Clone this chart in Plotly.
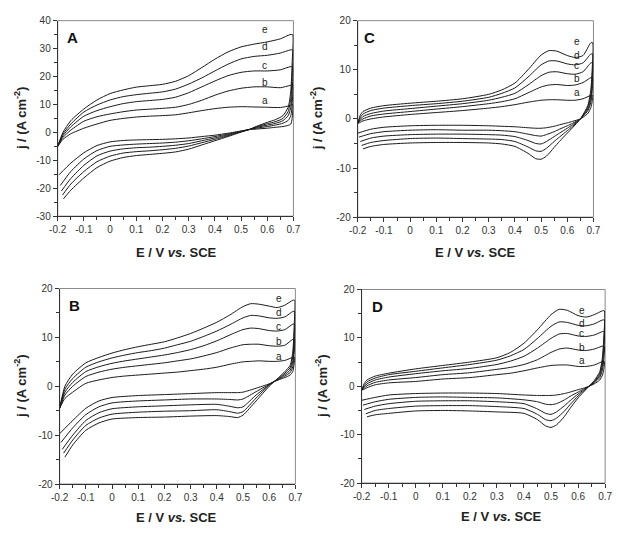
import plotly.graph_objects as go

curve_names = ["a", "b", "c", "d", "e"]

# ---------------- Panel A ----------------
A_anodic_E = [-0.2, -0.18, -0.15, -0.1, -0.05, 0, 0.05, 0.1, 0.15, 0.2, 0.25, 0.3, 0.35, 0.4, 0.45, 0.5, 0.55, 0.6, 0.65, 0.687]
A_anodic_j = [
    [-5, -2.5, -0.5, 1.5, 3.0, 4.3, 5.0, 5.5, 5.8, 6.0, 6.3, 7.0, 7.8, 8.5, 9.0, 9.2, 9.1, 9.0, 8.9, 9.6],
    [-5, -1.8, 0.8, 4.0, 5.6, 6.6, 7.4, 8.0, 8.3, 8.6, 9.0, 10.0, 11.5, 13.3, 14.8, 15.8, 16.3, 16.3, 16.0, 16.8],
    [-5, -1.2, 2.0, 5.8, 7.8, 9.2, 10.3, 11.0, 11.4, 11.8, 12.6, 14.2, 16.3, 18.4, 20.3, 21.5, 22.0, 22.0, 22.4, 23.5],
    [-5, -0.6, 3.0, 7.3, 9.8, 11.6, 12.8, 13.5, 14.0, 14.5, 15.5, 17.3, 19.5, 22.0, 24.4, 26.3, 27.2, 27.6, 28.4, 29.5],
    [-5, 0.0, 4.2, 8.4, 11.6, 13.9, 15.2, 16.2, 16.7, 17.2, 18.3, 20.3, 23.2, 26.2, 28.8, 30.6, 31.6, 32.4, 33.5, 35.0],
]
A_cathodic_E = [0.697, 0.695, 0.69, 0.68, 0.66, 0.63, 0.6, 0.56, 0.53, 0.5, 0.45, 0.4, 0.35, 0.3, 0.25, 0.2, 0.15, 0.1, 0.05, 0, -0.05, -0.1, -0.15]
A_cathodic_j = [
    [10, 5, 3, 2.5, 2.1, 1.8, 1.5, 1.2, 1.0, 0.5, -0.3, -1, -1.5, -2, -2.3, -2.5, -2.6, -2.7, -2.9, -3.4, -4.7, -7.3, -11],
    [17, 10, 6, 4.3, 3.3, 2.6, 2.1, 1.5, 1.0, 0.4, -0.6, -1.5, -2.3, -3, -3.5, -3.8, -4, -4.2, -4.5, -5, -6.5, -9.5, -14],
    [23.5, 15, 9, 6, 4.2, 3.2, 2.6, 1.8, 1.0, 0.3, -0.9, -2, -3, -4, -4.6, -5, -5.3, -5.5, -5.9, -6.7, -8.4, -11.8, -16.5],
    [29.5, 20, 12, 7.5, 5, 3.8, 3.1, 2, 1.0, 0.2, -1.2, -2.5, -3.7, -4.9, -5.7, -6.2, -6.6, -6.9, -7.4, -8.5, -10.5, -14, -18.5],
    [35, 25, 15, 9, 6, 4.5, 3.6, 2.2, 1.0, 0.1, -1.5, -3, -4.5, -6, -7, -7.5, -7.9, -8.3, -9, -10.3, -12.6, -16.3, -20.7],
]
A_end_E = [-0.195, -0.19, -0.186, -0.182, -0.178]
A_end_j = [-15.2, -19, -21, -22.5, -23.8]
A_label_E = [0.59, 0.59, 0.59, 0.59, 0.59]
A_label_j = [11.4, 18.0, 23.9, 30.7, 36.8]

# ---------------- Panel C ----------------
C_anodic_E = [-0.2, -0.19, -0.18, -0.15, -0.1, 0, 0.1, 0.2, 0.3, 0.35, 0.4, 0.45, 0.5, 0.53, 0.56, 0.6, 0.63, 0.66, 0.69]
C_anodic_j = [
    [-0.9, -0.7, -0.4, 0.0, 0.4, 0.9, 1.3, 1.7, 2.2, 2.5, 2.9, 3.4, 3.8, 3.9, 3.9, 3.8, 3.8, 4.1, 4.8],
    [-0.9, -0.4, 0.0, 0.6, 1.0, 1.5, 2.0, 2.5, 3.1, 3.5, 4.1, 5.3, 6.5, 6.9, 7.0, 6.8, 6.9, 7.4, 8.4],
    [-0.9, -0.1, 0.5, 1.1, 1.6, 2.1, 2.6, 3.1, 3.8, 4.4, 5.2, 6.9, 8.8, 9.5, 9.6, 9.2, 9.1, 9.6, 11.4],
    [-0.9, 0.3, 1.0, 1.7, 2.2, 2.7, 3.1, 3.6, 4.4, 5.2, 6.3, 8.5, 11.0, 11.8, 11.8, 11.2, 11.0, 11.4, 13.2],
    [-0.9, 0.8, 1.5, 2.2, 2.7, 3.2, 3.6, 4.1, 5.0, 5.9, 7.3, 10.0, 13.0, 13.9, 13.8, 12.9, 12.5, 12.9, 15.5],
]
C_cathodic_E = [0.697, 0.695, 0.69, 0.68, 0.67, 0.65, 0.62, 0.6, 0.57, 0.55, 0.52, 0.5, 0.48, 0.45, 0.4, 0.35, 0.3, 0.2, 0.1, 0, -0.1, -0.15]
C_cathodic_j = [
    [4.8, 3.5, 2.3, 1.2, 0.7, 0, -0.5, -0.8, -1.2, -1.5, -1.8, -1.9, -1.9, -1.8, -1.6, -1.5, -1.4, -1.3, -1.3, -1.4, -1.7, -2.1],
    [8.4, 5.5, 3.4, 1.8, 1.1, 0, -0.9, -1.4, -2.1, -2.6, -3.2, -3.5, -3.4, -3.1, -2.6, -2.4, -2.3, -2.3, -2.2, -2.3, -2.6, -3.0],
    [11.4, 7, 4.2, 2.2, 1.3, 0, -1.2, -1.9, -2.9, -3.6, -4.6, -5.1, -5.0, -4.4, -3.6, -3.3, -3.2, -3.1, -3.1, -3.2, -3.5, -3.9],
    [13.2, 8.5, 5, 2.6, 1.5, 0, -1.5, -2.4, -3.7, -4.6, -6.0, -6.6, -6.5, -5.7, -4.6, -4.2, -4.1, -4.0, -3.9, -4.0, -4.4, -4.8],
    [15.5, 10, 6, 3, 1.8, 0, -1.8, -2.9, -4.6, -5.8, -7.6, -8.2, -8.1, -7.0, -5.6, -5.1, -4.9, -4.8, -4.8, -4.9, -5.2, -5.6],
]
C_end_E = [-0.2, -0.195, -0.19, -0.185, -0.18]
C_end_j = [-2.9, -3.7, -4.6, -5.4, -6.1]
C_label_E = [0.636, 0.636, 0.636, 0.636, 0.636]
C_label_j = [5.4, 8.3, 10.8, 12.9, 15.7]

# ---------------- Panel B ----------------
B_anodic_E = [-0.2, -0.18, -0.15, -0.1, -0.05, 0, 0.05, 0.1, 0.15, 0.2, 0.25, 0.3, 0.35, 0.4, 0.45, 0.5, 0.53, 0.56, 0.6, 0.63, 0.66, 0.69]
B_anodic_j = [
    [-4.5, -2.5, -1.2, 0.6, 1.3, 1.8, 2.1, 2.3, 2.5, 2.7, 2.9, 3.2, 3.5, 3.9, 4.5, 5.0, 5.1, 5.2, 5.1, 5.1, 5.3, 5.9],
    [-4.5, -1.8, 0.0, 2.0, 2.9, 3.5, 3.9, 4.2, 4.5, 4.8, 5.2, 5.6, 6.2, 6.9, 7.8, 8.5, 8.6, 8.6, 8.3, 8.2, 8.4, 9.6],
    [-4.5, -1.2, 0.8, 3.0, 4.0, 4.7, 5.2, 5.6, 6.0, 6.4, 6.9, 7.5, 8.3, 9.3, 10.5, 11.6, 11.9, 11.8, 11.4, 11.3, 11.6, 12.7],
    [-4.5, -0.6, 1.6, 3.9, 5.0, 5.8, 6.4, 6.9, 7.3, 7.8, 8.5, 9.2, 10.2, 11.3, 12.6, 14.0, 14.5, 14.4, 14.0, 13.9, 14.2, 15.3],
    [-4.5, 0.0, 2.5, 4.8, 5.9, 6.8, 7.5, 8.1, 8.6, 9.1, 9.9, 10.8, 11.9, 13.1, 14.6, 16.3, 16.9, 16.8, 16.4, 16.1, 16.6, 17.6],
]
B_cathodic_E = [0.697, 0.695, 0.69, 0.68, 0.66, 0.64, 0.62, 0.6, 0.55, 0.5, 0.48, 0.45, 0.4, 0.3, 0.2, 0.1, 0, -0.05, -0.1, -0.15]
B_cathodic_j = [
    [5.9, 4.5, 3.0, 2.3, 1.8, 1.4, 1.0, 0.5, -0.4, -1.2, -1.3, -1.3, -1.3, -1.5, -1.7, -1.9, -2.3, -3.0, -4.5, -7.0],
    [9.6, 6.5, 4.0, 2.8, 2.1, 1.5, 1.0, 0.4, -1.1, -2.6, -2.8, -2.7, -2.6, -2.6, -2.8, -3.0, -3.4, -4.2, -5.8, -8.5],
    [12.7, 8, 5, 3.3, 2.4, 1.7, 1.0, 0.3, -1.8, -4.2, -4.4, -4.1, -3.7, -3.8, -4.0, -4.2, -4.6, -5.4, -7.0, -10.0],
    [15.3, 10, 6, 3.8, 2.7, 1.8, 1.0, 0.2, -2.4, -5.2, -5.5, -5.2, -4.8, -5.0, -5.1, -5.3, -5.7, -6.5, -8.0, -11.0],
    [17.6, 12, 7, 4.3, 3.0, 2.0, 1.0, 0.0, -3.0, -5.9, -6.4, -6.2, -6.0, -6.1, -6.3, -6.4, -6.7, -7.5, -9.0, -12.0],
]
B_end_E = [-0.2, -0.195, -0.19, -0.185, -0.18]
B_end_j = [-9.7, -11.5, -12.9, -13.7, -14.5]
B_label_E = [0.636, 0.636, 0.636, 0.636, 0.636]
B_label_j = [6.1, 9.1, 12.3, 15.1, 17.9]

# ---------------- Panel D ----------------
D_anodic_E = [-0.2, -0.19, -0.18, -0.15, -0.1, 0, 0.1, 0.2, 0.3, 0.35, 0.4, 0.45, 0.5, 0.53, 0.56, 0.6, 0.63, 0.66, 0.69]
D_anodic_j = [
    [-0.8, -0.6, -0.3, 0.3, 0.7, 1.0, 1.5, 1.8, 2.4, 2.7, 3.2, 3.8, 4.3, 4.4, 4.4, 4.1, 4.1, 4.4, 5.1],
    [-0.8, -0.4, 0.1, 0.8, 1.3, 1.8, 2.4, 2.8, 3.5, 3.9, 4.5, 5.5, 7.0, 7.7, 7.9, 7.5, 7.4, 7.7, 8.3],
    [-0.8, -0.1, 0.5, 1.3, 1.9, 2.6, 3.2, 3.7, 4.5, 5.2, 6.2, 7.9, 9.9, 10.8, 10.9, 10.4, 10.3, 10.6, 11.3],
    [-0.8, 0.2, 0.9, 1.7, 2.4, 3.1, 3.8, 4.5, 5.4, 6.3, 7.6, 9.9, 12.4, 13.3, 13.2, 12.6, 12.5, 12.9, 13.7],
    [-0.8, 0.6, 1.3, 2.1, 2.7, 3.6, 4.3, 5.0, 5.9, 7.0, 8.9, 11.7, 14.8, 15.9, 15.7, 14.6, 14.3, 14.8, 15.6],
]
D_cathodic_E = [0.697, 0.695, 0.69, 0.68, 0.66, 0.64, 0.62, 0.6, 0.57, 0.55, 0.52, 0.5, 0.48, 0.45, 0.4, 0.3, 0.2, 0.1, 0, -0.1, -0.15]
D_cathodic_j = [
    [5.1, 3.5, 2.3, 1.3, 0.5, 0, -0.4, -0.7, -1.2, -1.5, -1.8, -1.9, -1.9, -1.9, -1.8, -1.5, -1.4, -1.4, -1.5, -1.8, -2.3],
    [8.3, 5.5, 3.4, 1.8, 0.7, 0, -0.6, -1.2, -2.1, -2.8, -3.6, -3.8, -3.7, -3.2, -2.8, -2.4, -2.3, -2.2, -2.3, -2.7, -3.2],
    [11.3, 7.5, 4.4, 2.2, 0.9, 0, -0.8, -1.6, -3.0, -4.0, -5.3, -5.8, -5.6, -4.7, -3.6, -3.2, -3.0, -3.0, -3.1, -3.6, -4.1],
    [13.7, 9, 5.2, 2.6, 1.0, 0, -1.0, -2.0, -3.8, -5.1, -6.6, -7.1, -6.9, -5.8, -4.6, -4.2, -4.0, -4.0, -4.1, -4.6, -5.0],
    [15.6, 10, 6, 3, 1.2, 0, -1.2, -2.4, -4.6, -6.2, -8.0, -8.5, -8.2, -6.9, -5.6, -5.3, -5.1, -5.0, -5.1, -5.6, -5.9],
]
D_end_E = [-0.2, -0.195, -0.19, -0.185, -0.18]
D_end_j = [-2.9, -3.9, -4.8, -5.7, -6.3]
D_label_E = [0.614, 0.614, 0.614, 0.614, 0.614]
D_label_j = [5.3, 8.1, 10.9, 12.9, 15.6]

# ---------------- Ticks ----------------
x_tickvals = [-0.2, -0.1, 0, 0.1, 0.2, 0.3, 0.4, 0.5, 0.6, 0.7]
x_ticktext = ["-0.2", "-0.1", "0", "0.1", "0.2", "0.3", "0.4", "0.5", "0.6", "0.7"]
yA_tickvals = [-30, -20, -10, 0, 10, 20, 30, 40]
yA_ticktext = ["-30", "-20", "-10", "0", "10", "20", "30", "40"]
y_tickvals = [-20, -10, 0, 10, 20]
y_ticktext = ["-20", "-10", "0", "10", "20"]

W, H = 618, 535
FONT = "Liberation Sans, Arial, sans-serif"
LINE = "#1a1a1a"

panels = [
    dict(name="A", ax="", aE=A_anodic_E, aj=A_anodic_j, cE=A_cathodic_E, cj=A_cathodic_j,
         eE=A_end_E, ej=A_end_j, lE=A_label_E, lj=A_label_j,
         box=(50, 292, 15, 215), yr=[-30, 40], yv=yA_tickvals, yt=yA_ticktext,
         letter=(65, 32), ytitle=(12, 115), xtitle=(172, 252)),
    dict(name="C", ax="2", aE=C_anodic_E, aj=C_anodic_j, cE=C_cathodic_E, cj=C_cathodic_j,
         eE=C_end_E, ej=C_end_j, lE=C_label_E, lj=C_label_j,
         box=(358, 600, 15, 216), yr=[-20, 20], yv=y_tickvals, yt=y_ticktext,
         letter=(370, 32), ytitle=(316, 115), xtitle=(479, 252)),
    dict(name="B", ax="3", aE=B_anodic_E, aj=B_anodic_j, cE=B_cathodic_E, cj=B_cathodic_j,
         eE=B_end_E, ej=B_end_j, lE=B_label_E, lj=B_label_j,
         box=(52, 294, 289, 489), yr=[-20, 20], yv=y_tickvals, yt=y_ticktext,
         letter=(67, 306), ytitle=(12, 389), xtitle=(172, 523)),
    dict(name="D", ax="4", aE=D_anodic_E, aj=D_anodic_j, cE=D_cathodic_E, cj=D_cathodic_j,
         eE=D_end_E, ej=D_end_j, lE=D_label_E, lj=D_label_j,
         box=(362, 612, 290, 488), yr=[-20, 20], yv=y_tickvals, yt=y_ticktext,
         letter=(378, 307), ytitle=(321, 389), xtitle=(506, 522)),
]

fig = go.Figure()
layout = dict(
    width=W, height=H, margin=dict(l=0, r=0, t=0, b=0),
    paper_bgcolor="white", plot_bgcolor="white", showlegend=False,
    font=dict(family=FONT, size=10, color="#333333"),
)
annotations = []
shapes = []

for p in panels:
    xa = "x" + p["ax"]
    ya = "y" + p["ax"]
    for i, nm in enumerate(curve_names):
        xs = list(p["aE"]) + list(p["cE"]) + [p["eE"][i]]
        ys = list(p["aj"][i]) + list(p["cj"][i]) + [p["ej"][i]]
        fig.add_trace(go.Scatter(
            x=xs, y=ys, mode="lines", name=f"{p['name']}-{nm}",
            line=dict(color=LINE, width=1, shape="spline", smoothing=0.6),
            xaxis=xa, yaxis=ya, hoverinfo="skip"))
        annotations.append(dict(
            x=p["lE"][i], y=p["lj"][i], xref=xa, yref=ya, text=nm, showarrow=False,
            xanchor="center", yanchor="middle",
            font=dict(family=FONT, size=10, color="#222222")))
    x0, x1, yt, yb = p["box"]
    xkey = "xaxis" + p["ax"]
    ykey = "yaxis" + p["ax"]
    layout[xkey] = dict(
        domain=[x0 / W, x1 / W], range=[-0.2, 0.7], anchor=ya,
        tickvals=x_tickvals, ticktext=x_ticktext, ticks="outside", ticklen=4,
        tickcolor="#333333", showline=True, linecolor="#333333", linewidth=1,
        showgrid=False, zeroline=False, tickfont=dict(family=FONT, size=10, color="#333333"),
        minor=dict(dtick=0.05, tick0=-0.2, ticks="outside", ticklen=3, tickcolor="#333333", showgrid=False),
    )
    layout[ykey] = dict(
        domain=[1 - yb / H, 1 - yt / H], range=p["yr"], anchor=xa,
        tickvals=p["yv"], ticktext=p["yt"], ticks="outside", ticklen=4,
        tickcolor="#333333", showline=True, linecolor="#333333", linewidth=1,
        showgrid=False, zeroline=False, tickfont=dict(family=FONT, size=10, color="#333333"),
        minor=dict(dtick=5, tick0=0, ticks="outside", ticklen=3, tickcolor="#333333", showgrid=False),
    )
    shapes.append(dict(type="rect", xref=xa + " domain", yref=ya + " domain",
                       x0=0, x1=1, y0=0, y1=1, line=dict(color="#8a8a8a", width=1), layer="below"))
    lx, ly = p["letter"]
    annotations.append(dict(x=lx / W, y=1 - ly / H, xref="paper", yref="paper",
                            xanchor="center", yanchor="middle",
                            text="<b>" + p["name"] + "</b>", showarrow=False,
                            font=dict(family=FONT, size=15, color="#111111")))
    tx, ty = p["ytitle"]
    annotations.append(dict(x=tx / W, y=1 - ty / H, xref="paper", yref="paper",
                            xanchor="center", yanchor="middle",
                            text="<b>j / (A cm<sup>-2</sup>)</b>", textangle=-90, showarrow=False,
                            font=dict(family=FONT, size=13, color="#222222")))
    tx, ty = p["xtitle"]
    annotations.append(dict(x=tx / W, y=1 - ty / H, xref="paper", yref="paper",
                            xanchor="center", yanchor="middle",
                            text="<b>E / V <i>vs.</i> SCE</b>", showarrow=False,
                            font=dict(family=FONT, size=13, color="#222222")))

layout["annotations"] = annotations
layout["shapes"] = shapes
fig.update_layout(**layout)
fig.write_html("out.html")
